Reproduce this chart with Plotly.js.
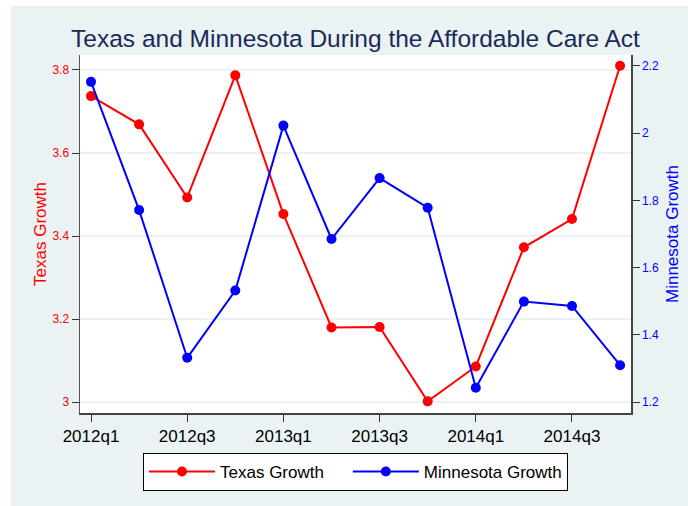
<!DOCTYPE html>
<html>
<head>
<meta charset="utf-8">
<script src="https://cdn.plot.ly/plotly-3.0.1.min.js"></script>
<style>
html, body { margin: 0; padding: 0; background: #ffffff; }
#chart { position: absolute; left: 11px; top: 6px; width: 677px; height: 500px; }
</style>
</head>
<body>
<div id="chart"></div>
<script>
const quarters = ["2012q1","2012q2","2012q3","2012q4","2013q1","2013q2","2013q3","2013q4","2014q1","2014q2","2014q3","2014q4"];
const texasGrowth = [3.737, 3.669, 3.493, 3.787, 3.453, 3.180, 3.181, 3.002, 3.086, 3.373, 3.441, 3.810];
const minnesotaGrowth = [2.152, 1.771, 1.332, 1.532, 2.022, 1.685, 1.866, 1.778, 1.243, 1.499, 1.486, 1.310];
const xTickLabels = ["2012q1","2012q3","2013q1","2013q3","2014q1","2014q3"];
const leftTicks = [3, 3.2, 3.4, 3.6, 3.8];
const leftTickText = ["3", "3.2", "3.4", "3.6", "3.8"];
const rightTicks = [1.2, 1.4, 1.6, 1.8, 2, 2.2];
const rightTickText = ["1.2", "1.4", "1.6", "1.8", "2", "2.2"];
const seriesNames = ["Texas Growth", "Minnesota Growth"];

const xIdx = quarters.map((q, i) => i);
const xTickVals = xTickLabels.map(l => quarters.indexOf(l));

const FONT = "Arial, 'Liberation Sans', sans-serif";
const PAD = "\u00a0\u00a0\u00a0\u00a0";

const traces = [
  {
    x: xIdx, y: texasGrowth, name: seriesNames[0] + PAD, type: "scatter", mode: "lines+markers",
    line: { color: "#ff0000", width: 2 },
    marker: { color: "#ff0000", size: 10 },
    yaxis: "y"
  },
  {
    x: xIdx, y: minnesotaGrowth, name: seriesNames[1], type: "scatter", mode: "lines+markers",
    line: { color: "#0000ff", width: 2 },
    marker: { color: "#0000ff", size: 10 },
    yaxis: "y2"
  }
];

const layout = {
  width: 677, height: 500,
  paper_bgcolor: "#eaf2f3",
  plot_bgcolor: "#ffffff",
  margin: { l: 69, r: 57, t: 49, b: 93, pad: 0 },
  font: { family: FONT, color: "#000000" },
  title: {
    text: "Texas and Minnesota During the Affordable Care Act",
    font: { family: FONT, size: 24.5, color: "#1c2a5a" },
    x: 0.5, xref: "paper", xanchor: "center",
    y: 1 - 32 / 500, yref: "container", yanchor: "middle"
  },
  xaxis: {
    range: [-0.229, 11.227],
    tickmode: "array", tickvals: xTickVals, ticktext: xTickLabels,
    ticks: "outside", ticklen: 7, tickwidth: 1, tickcolor: "#333333",
    showline: true, linecolor: "#444444", linewidth: 1.5,
    showgrid: false, zeroline: false,
    tickfont: { family: FONT, size: 17, color: "#000000" },
    automargin: false, fixedrange: true
  },
  yaxis: {
    range: [2.974, 3.836],
    tickmode: "array", tickvals: leftTicks, ticktext: leftTickText,
    ticks: "outside", ticklen: 7, tickwidth: 1, tickcolor: "#333333",
    showline: true, linecolor: "#555555", linewidth: 1.5,
    showgrid: true, gridcolor: "#eaf2f3", gridwidth: 1.5,
    zeroline: false,
    tickfont: { family: FONT, size: 12, color: "#ff0000" },
    title: { text: "Texas Growth", font: { family: FONT, size: 17, color: "#ff0000" }, standoff: 1 },
    automargin: false, fixedrange: true
  },
  yaxis2: {
    overlaying: "y", side: "right",
    range: [1.168, 2.2318],
    tickmode: "array", tickvals: rightTicks, ticktext: rightTickText,
    ticks: "outside", ticklen: 7, tickwidth: 1, tickcolor: "#333333",
    showline: true, linecolor: "#444444", linewidth: 1.5,
    showgrid: false, zeroline: false,
    tickfont: { family: FONT, size: 12, color: "#0000ff" },
    title: { text: "Minnesota Growth", font: { family: FONT, size: 17, color: "#0000ff" }, standoff: 8 },
    automargin: false, fixedrange: true
  },
  showlegend: true,
  legend: {
    orientation: "h",
    x: 0.5, xanchor: "center", xref: "paper",
    y: -40 / 358, yanchor: "top", yref: "paper",
    bgcolor: "#ffffff", bordercolor: "#000000", borderwidth: 1,
    font: { family: FONT, size: 17, color: "#000000" },
    itemwidth: 66
  }
};

Plotly.newPlot("chart", traces, layout, { displayModeBar: false, staticPlot: true });
</script>
</body>
</html>
